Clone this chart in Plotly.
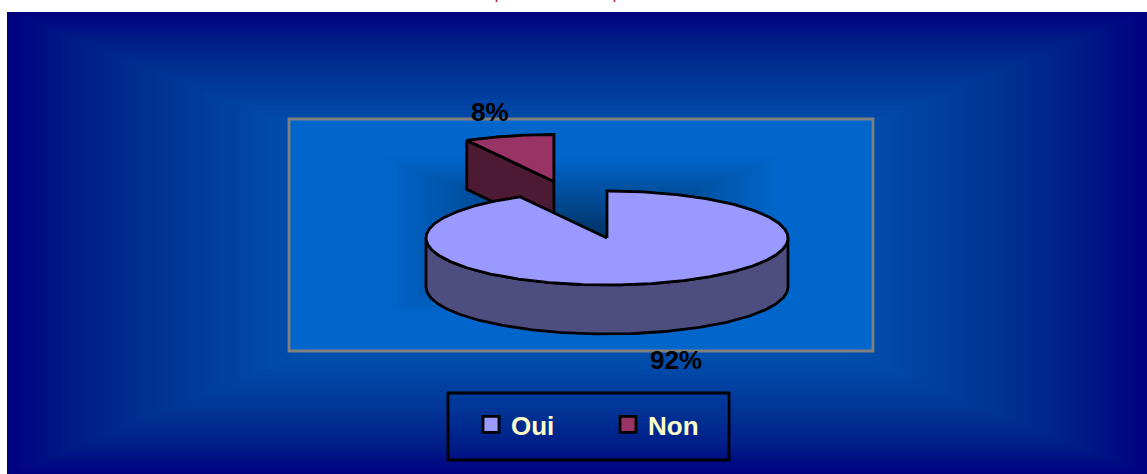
import numpy as np
import plotly.graph_objects as go

# Data
categories = ["Oui", "Non"]
values = [92, 8]
top_colors = ["#9999FF", "#993366"]
side_colors = ["#4D4D80", "#4D1A33"]

# Layout constants (pixel space of the page)
W, H = 1147, 474
CX, CY, RX, RY, DEPTH = 607, 238, 181, 47, 49
EXPLODE_X, EXPLODE_Y = 1.18, 1.24
FONT = "Liberation Sans, Arial, sans-serif"

total = sum(values)
start_oui = 0.0
end_oui = 360.0 * values[0] / total
end_non = end_oui + 360.0 * values[1] / total


def arc(a0, a1, ox=0.0, oy=0.0, dz=0.0, n=160):
    a = np.radians(np.linspace(a0, a1, n))
    return CX + ox + RX * np.sin(a), CY + oy + dz - RY * np.cos(a)


def rect_gradient(x0, x1, y0, y1, step):
    xs = np.arange(x0, x1, step) + step / 2
    ys = np.arange(y0, y1, step) + step / 2
    cx, cy = (x0 + x1) / 2, (y0 + y1) / 2
    gx, gy = np.meshgrid(np.abs(xs - cx) / ((x1 - x0) / 2), np.abs(ys - cy) / ((y1 - y0) / 2))
    return xs, ys, np.maximum(gx, gy)


fig = go.Figure()

# Panel background
xs, ys, z = rect_gradient(7, W, 12, H, 3)
fig.add_trace(go.Heatmap(x=xs, y=ys, z=z, zmin=0, zmax=1, showscale=False, hoverinfo="skip",
                         colorscale=[[0, "#0066CC"], [0.53, "#004BAA"], [0.74, "#003294"],
                                     [0.88, "#001C87"], [1, "#000080"]]))
# Plot area background
xs, ys, z = rect_gradient(289, 873, 119, 351, 2)
fig.add_trace(go.Heatmap(x=xs, y=ys, z=z, zmin=0, zmax=1, showscale=False, hoverinfo="skip",
                         colorscale=[[0, "#003366"], [0.68, "#0066CC"], [1, "#0066CC"]]))

line = dict(color="black", width=2.8)

# Non slice (exploded)
mid = np.radians((end_oui + end_non) / 2)
ox, oy = EXPLODE_X * RX * np.sin(mid), -EXPLODE_Y * RY * np.cos(mid)
ax, ay = arc(end_oui, end_non, ox, oy)
apex = (CX + ox, CY + oy)
fig.add_trace(go.Scatter(
    x=[ax[0], apex[0], apex[0], ax[0], ax[0]],
    y=[ay[0], apex[1], apex[1] + DEPTH, ay[0] + DEPTH, ay[0]],
    mode="lines", fill="toself", fillcolor=side_colors[1], line=line, showlegend=False, hoverinfo="skip"))
fig.add_trace(go.Scatter(
    x=np.r_[apex[0], ax, apex[0]], y=np.r_[apex[1], ay, apex[1]],
    mode="lines", fill="toself", fillcolor=top_colors[1], line=line, showlegend=False, hoverinfo="skip"))

# Oui slice
sx, sy = arc(90, 270)
fig.add_trace(go.Scatter(
    x=np.r_[sx, sx[::-1], sx[0]], y=np.r_[sy, sy[::-1] + DEPTH, sy[0]],
    mode="lines", fill="toself", fillcolor=side_colors[0], line=line, showlegend=False, hoverinfo="skip"))
tx, ty = arc(start_oui, end_oui, n=400)
fig.add_trace(go.Scatter(
    x=np.r_[CX, tx, CX], y=np.r_[CY, ty, CY],
    mode="lines", fill="toself", fillcolor=top_colors[0], line=line, showlegend=False, hoverinfo="skip"))

# Legend entries
for name, col in zip(categories, top_colors):
    fig.add_trace(go.Scatter(x=[None], y=[None], name=name, mode="markers",
                             marker=dict(symbol="square", size=16, color=col,
                                         line=dict(color="black", width=2.8))))

label_pos = [(676, 360), (490, 112)]
annotations = [
    dict(x=x, y=y, text=f"<b>{v}%</b>", showarrow=False, xanchor="center", yanchor="middle",
         font=dict(family=FONT, size=26, color="black"))
    for v, (x, y) in zip(values, label_pos)
]
# Clipped descenders of the title above the panel
for x in (500, 618):
    annotations.append(dict(x=x, y=0, text="<i>p</i>", showarrow=False, xanchor="center",
                            yanchor="bottom", yshift=-4,
                            font=dict(family=FONT, size=16, color="#A01818")))

fig.update_layout(
    width=W, height=H, margin=dict(l=0, r=0, t=0, b=0),
    paper_bgcolor="white", plot_bgcolor="white",
    xaxis=dict(range=[0, W], visible=False, fixedrange=True),
    yaxis=dict(range=[H, 0], visible=False, fixedrange=True),
    shapes=[
        dict(type="rect", x0=289, x1=873, y0=119, y1=351, line=dict(color="#808080", width=2.8)),
        dict(type="rect", x0=448, x1=729, y0=393, y1=460, line=dict(color="black", width=2.8)),
    ],
    annotations=annotations,
    legend=dict(orientation="h", x=471 / W, y=1 - 401 / H, xanchor="left", yanchor="top",
                bgcolor="rgba(0,0,0,0)", borderwidth=0, entrywidth=92, entrywidthmode="pixels",
                font=dict(family=FONT, size=26, color="#FFFFCC", weight=700)),
)

fig.write_html("out.html", config={"displayModeBar": False},
               post_script="document.body.style.margin='0';document.body.style.overflow='hidden';")
